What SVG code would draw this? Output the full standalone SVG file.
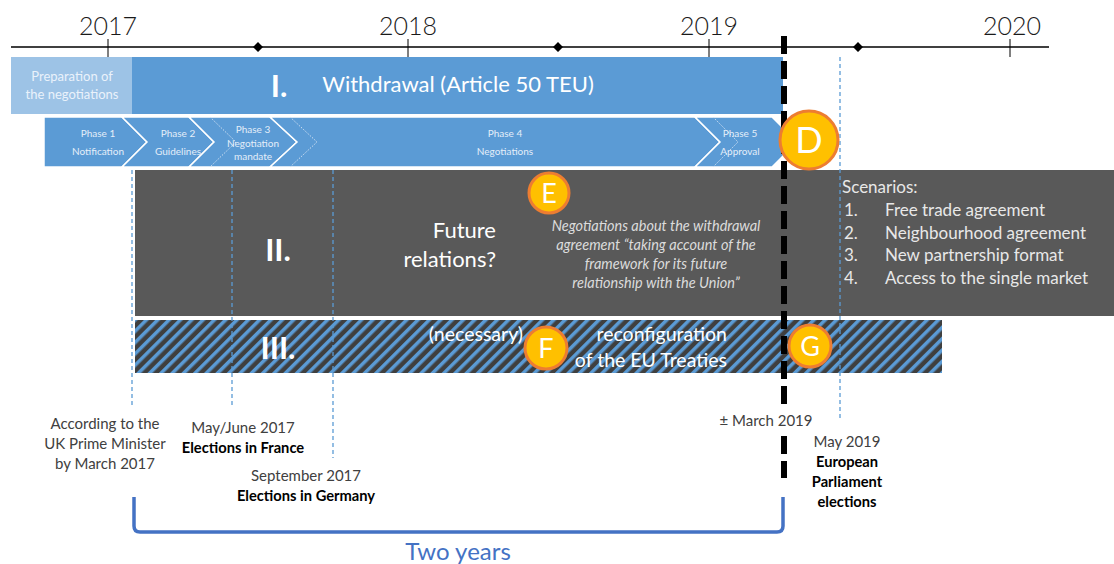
<svg xmlns="http://www.w3.org/2000/svg" width="1114" height="564" viewBox="0 0 1114 564">
<defs>
<pattern id="hatch" patternUnits="userSpaceOnUse" width="8" height="8" patternTransform="rotate(45)">
<rect width="8" height="8" fill="#3F3F3F"/>
<rect x="0" y="0" width="3.5" height="8" fill="#5B9BD5"/>
</pattern>
</defs>
<style>
text{font-family:Lato,"Liberation Sans",sans-serif;}
.yr{font-size:25px;fill:#1a1a1a;text-anchor:middle;font-weight:300;}
.ph{font-size:10px;fill:#e4eef9;text-anchor:middle;}
.chev{fill:#5B9BD5;stroke:#fff;stroke-width:1.5;}
.dot{fill:none;stroke:#cfe0f3;stroke-width:1;stroke-dasharray:1.5 1.5;}
.big{font-size:31px;font-weight:bold;fill:#fff;text-anchor:middle;}
.vd{stroke:#5B9BD5;stroke-width:1.3;stroke-dasharray:4 3;fill:none;}
.circ{fill:#FFC000;stroke:#ED7D31;stroke-width:3;}
.cl{fill:#fff;text-anchor:middle;}
.sc{font-size:17px;fill:#e8e8e8;}
.rc{font-size:19.5px;fill:#fff;text-anchor:end;}
.lab{font-size:15px;fill:#404040;text-anchor:middle;}
.lb{font-size:14.7px;fill:#000;font-weight:bold;text-anchor:middle;}
</style>

<g id="timeline">
<line x1="11" y1="47" x2="1049" y2="47" stroke="#000" stroke-width="1.3"/>
<g stroke="#000" stroke-width="1">
<line x1="108" y1="39" x2="108" y2="57"/>
<line x1="408" y1="39" x2="408" y2="57"/>
<line x1="709" y1="39" x2="709" y2="57"/>
<line x1="1010" y1="39" x2="1010" y2="57"/>
</g>
<path d="M258,42 L263,47 L258,52 L253,47 Z M558,42 L563,47 L558,52 L553,47 Z M858,42 L863,47 L858,52 L853,47 Z" fill="#000"/>
<text class="yr" x="108" y="35">2017</text>
<text class="yr" x="408" y="35">2018</text>
<text class="yr" x="709" y="35">2019</text>
<text class="yr" x="1012" y="35">2020</text>
</g>

<g id="withdrawal">
<rect x="11" y="57" width="121" height="57" fill="#9DC3E6"/>
<text x="72" y="81" font-size="13" fill="#eaf2fb" text-anchor="middle">Preparation of</text>
<text x="72" y="99" font-size="13" fill="#eaf2fb" text-anchor="middle">the negotiations</text>
<rect x="132" y="57" width="651" height="57" fill="#5B9BD5"/>
<text class="big" x="279" y="97">I.</text>
<text x="458" y="92" font-size="22" fill="#fff" text-anchor="middle">Withdrawal (Article 50 TEU)</text>
</g>

<g id="phases">
<polygon class="chev" points="44,117 122,117 147,142 122,167 44,167"/>
<polygon class="chev" points="122,117 189,117 214,142 189,167 122,167 147,142"/>
<polygon class="chev" points="189,117 270,117 297,142 270,167 189,167 214,142"/>
<polygon class="chev" points="270,117 695,117 720,142 695,167 270,167 297,142"/>
<polygon class="chev" points="695,117 772,117 797,142 772,167 695,167 720,142"/>
<polyline class="dot" points="290,117 317,142 290,167"/>
<polyline class="dot" points="210,117 236,142 210,167"/>
<polyline class="dot" points="713,117 738,142 713,167"/>
<text class="ph" x="98" y="137">Phase 1</text>
<text class="ph" x="98" y="155">Notification</text>
<text class="ph" x="178" y="137">Phase 2</text>
<text class="ph" x="178" y="155">Guidelines</text>
<text class="ph" x="253" y="133">Phase 3</text>
<text class="ph" x="253" y="147">Negotiation</text>
<text class="ph" x="253" y="160">mandate</text>
<text class="ph" x="505" y="137">Phase 4</text>
<text class="ph" x="505" y="155">Negotiations</text>
<text class="ph" x="740" y="137">Phase 5</text>
<text class="ph" x="740" y="155">Approval</text>
</g>

<g id="future">
<rect x="135" y="170" width="979" height="146" fill="#595959"/>
<text class="big" x="278" y="261">II.</text>
<text x="496" y="238" font-size="22" fill="#fff" text-anchor="end">Future</text>
<text x="496" y="267" font-size="22" fill="#fff" text-anchor="end">relations?</text>
<g font-size="14.5" font-style="italic" fill="#dcdcdc" text-anchor="middle">
<text x="656" y="231">Negotiations about the withdrawal</text>
<text x="656" y="250">agreement  “taking account of the</text>
<text x="656" y="269">framework for its future</text>
<text x="656" y="288">relationship with the Union”</text>
</g>
<text class="sc" x="842" y="193" font-size="21">Scenarios:</text>
<text class="sc" x="844" y="216">1.</text><text class="sc" x="885" y="216">Free trade agreement</text>
<text class="sc" x="844" y="239">2.</text><text class="sc" x="885" y="239">Neighbourhood agreement</text>
<text class="sc" x="844" y="261">3.</text><text class="sc" x="885" y="261">New partnership format</text>
<text class="sc" x="844" y="284">4.</text><text class="sc" x="885" y="284">Access to the single market</text>
</g>

<g id="treaties">
<rect x="135" y="320" width="807" height="53" fill="url(#hatch)"/>
<text class="big" x="278" y="359">III.</text>
<text class="rc" x="523" y="341">(necessary)</text>
<text class="rc" x="727" y="341">reconfiguration</text>
<text class="rc" x="727" y="367">of the EU Treaties</text>
</g>

<g id="connectors">
<line class="vd" x1="132" y1="170" x2="132" y2="405"/>
<line class="vd" x1="232" y1="170" x2="232" y2="408"/>
<line class="vd" x1="333" y1="170" x2="333" y2="458"/>
<line class="vd" x1="840" y1="57" x2="840" y2="420"/>
<line x1="784" y1="36" x2="784" y2="478" stroke="#000" stroke-width="6" stroke-dasharray="18 7"/>
<path d="M134,497 L134,526 Q134,532 140,532 L777,532 Q783,532 783,526 L783,497" fill="none" stroke="#4472C4" stroke-width="3.5"/>
</g>

<g id="markerD"><circle class="circ" cx="809" cy="140" r="29"/><text class="cl" x="809" y="153" font-size="36">D</text></g>
<g id="markerE"><circle class="circ" cx="549" cy="193" r="20"/><text class="cl" x="549" y="203" font-size="27">E</text></g>
<g id="markerF"><circle class="circ" cx="546" cy="348" r="21"/><text class="cl" x="546" y="358" font-size="27">F</text></g>
<g id="markerG"><circle class="circ" cx="810" cy="346" r="21"/><text class="cl" x="810" y="356" font-size="27">G</text></g>

<g id="labels">
<text class="lab" x="105" y="429">According to the</text>
<text class="lab" x="105" y="449">UK Prime Minister</text>
<text class="lab" x="105" y="469">by March 2017</text>
<text class="lab" x="243" y="433">May/June 2017</text>
<text class="lb" x="243" y="453">Elections in France</text>
<text class="lab" x="306" y="481">September 2017</text>
<text class="lb" x="306" y="501">Elections in Germany</text>
<rect x="716" y="408" width="100" height="24" fill="#fff"/>
<text class="lab" x="766" y="426">± March 2019</text>
<text class="lab" x="847" y="447">May 2019</text>
<text class="lb" x="847" y="467">European</text>
<text class="lb" x="847" y="487">Parliament</text>
<text class="lb" x="847" y="507">elections</text>
<text x="458" y="560" font-size="24" fill="#4472C4" text-anchor="middle">Two years</text>
</g>
</svg>
